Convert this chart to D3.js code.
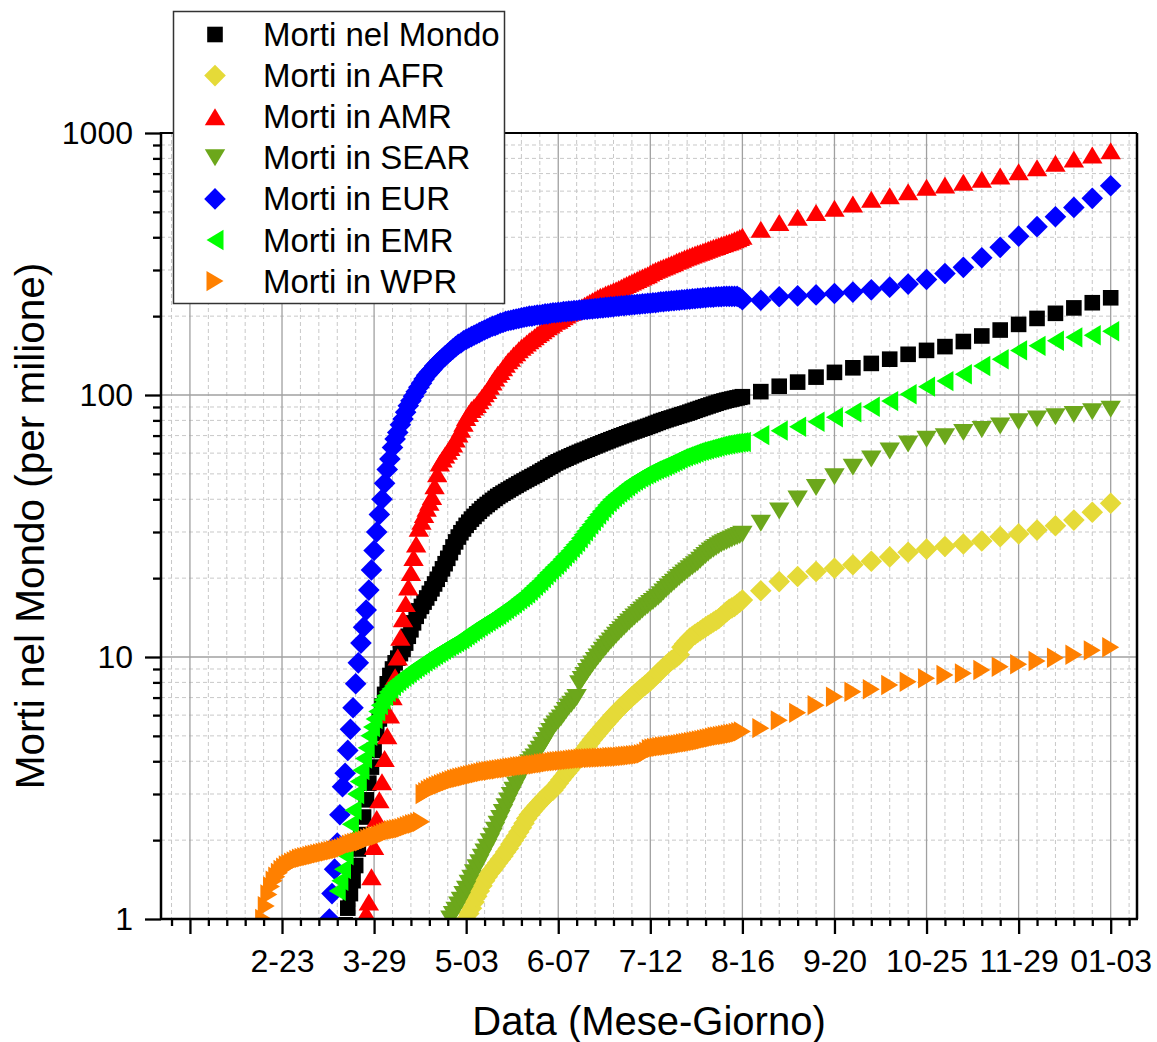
<!DOCTYPE html>
<html>
<head>
<meta charset="utf-8">
<script src="https://cdn.jsdelivr.net/npm/d3@7"></script>
<style>
  body { margin: 0; background: #fff; }
  text { font-family: "Liberation Sans", Arial, sans-serif; }
</style>
</head>
<body>
<div id="chart"></div>
<script>
// Morti per milione, regioni WHO: dati giornalieri fino al 16 agosto, poi settimanali

var weeklyDates = ["2020-08-23","2020-08-30","2020-09-06","2020-09-13","2020-09-20","2020-09-27",
  "2020-10-04","2020-10-11","2020-10-18","2020-10-25","2020-11-01","2020-11-08","2020-11-15",
  "2020-11-22","2020-11-29","2020-12-06","2020-12-13","2020-12-20","2020-12-27","2021-01-03"];

var majorTickDates = ["2020-01-19","2020-02-23","2020-03-29","2020-05-03","2020-06-07","2020-07-12",
  "2020-08-16","2020-09-20","2020-10-25","2020-11-29","2021-01-03"];
var majorTickLabels = ["","2-23","3-29","5-03","6-07","7-12","8-16","9-20","10-25","11-29","01-03"];
var yTickValues = [1, 10, 100, 1000];

// Mondo (start 2020-03-18)
var worldStart = "2020-03-18";
var worldDaily = [
  0.95, 1.1, 1.25, 1.4, 1.6, 1.85, 2.1, 2.45, 2.85, 3.3,
  3.8, 4.4, 5.1, 5.8, 6.5, 7.2, 7.9, 8.5, 9.0, 9.5,
  9.9, 10.3, 10.7, 11.3, 12, 12.7, 13.5, 14.3, 15, 15.6,
  16.2, 16.8, 17.5, 18.2, 19, 19.8, 20.7, 21.7, 22.7, 23.8,
  25, 26.3, 27.5, 28.7, 29.8, 30.8, 31.8, 32.7, 33.6, 34.4,
  35.2, 36, 36.8, 37.5, 38.2, 38.9, 39.6, 40.3, 41, 41.6,
  42.2, 42.8, 43.4, 44, 44.6, 45.2, 45.8, 46.4, 47, 47.6,
  48.2, 48.8, 49.4, 50, 50.7, 51.4, 52.1, 52.8, 53.5, 54.2,
  55, 55.6, 56.2, 56.8, 57.4, 58, 58.6, 59.2, 59.8, 60.4,
  61, 61.5, 62.1, 62.7, 63.3, 63.9, 64.5, 65.1, 65.7, 66.3,
  66.9, 67.5, 68.1, 68.7, 69.3, 69.9, 70.5, 71.1, 71.7, 72.3,
  72.9, 73.5, 74.1, 74.7, 75.3, 75.9, 76.5, 77.2, 77.9, 78.6,
  79.3, 79.9, 80.5, 81.1, 81.7, 82.3, 82.9, 83.5, 84.1, 84.7,
  85.3, 86, 86.7, 87.4, 88.1, 88.8, 89.5, 90.2, 90.9, 91.6,
  92.3, 93, 93.7, 94.3, 94.9, 95.5, 96, 96.5, 97, 97.5,
  98, 98.5];
var worldWeekly = [103, 108, 112, 117, 122, 127, 132, 137, 143, 148,
  153, 160, 168, 177, 186, 196, 205, 215, 225, 235];

// AFR (start 2020-05-03)
var afrStart = "2020-05-03";
var afrDaily = [
  1.0, 1.05, 1.1, 1.16, 1.22, 1.28, 1.34, 1.4, 1.45, 1.5,
  1.54, 1.59, 1.64, 1.69, 1.74, 1.8, 1.86, 1.93, 2.0, 2.07,
  2.15, 2.23, 2.32, 2.42, 2.5, 2.57, 2.64, 2.71, 2.78, 2.85,
  2.92, 2.99, 3.05, 3.1, 3.2, 3.3, 3.4, 3.5, 3.6, 3.7,
  3.8, 3.92, 4.05, 4.18, 4.3, 4.43, 4.56, 4.7, 4.84, 4.98,
  5.12, 5.26, 5.4, 5.55, 5.7, 5.85, 6.0, 6.15, 6.3, 6.45,
  6.6, 6.75, 6.9, 7.05, 7.2, 7.35, 7.5, 7.65, 7.8, 7.95,
  8.1, 8.3, 8.5, 8.7, 8.9, 9.1, 9.3, 9.5, 9.7, 9.85,
  10.0, 10.2, 10.9, 11.2, 11.5, 11.8, 12.0, 12.2, 12.4, 12.6,
  12.8, 13.0, 13.2, 13.4, 13.6, 13.8, 14.0, 14.3, 14.6, 14.9,
  15.2, 15.4, 15.6, 15.9, 16.2, 16.5];
var afrWeekly = [17.9, 19.4, 20.3, 21.2, 21.8, 22.5, 23.2, 24.1, 25.1, 25.8,
  26.4, 27, 27.7, 28.8, 29.5, 30.5, 31.7, 33.3, 35.7, 38.6];

// AMR (start 2020-03-25)
var amrStart = "2020-03-25";
var amrDaily = [
  0.95, 1.05, 1.16, 1.45, 1.89, 2.42, 2.85, 3.34, 4.1, 5.0,
  6.0, 7.05, 8.4, 10, 11.9, 14, 16, 18.5, 21, 24,
  27, 31, 33, 35, 37, 39, 41, 45, 50, 55,
  57, 59, 61, 63, 65, 68, 71, 74, 78, 82,
  85, 88, 90, 92, 95, 98, 101, 104, 108, 112,
  116, 120, 123, 127, 131, 135, 138, 142, 145, 149,
  152, 155, 158, 161, 164, 167, 170, 173, 176, 179,
  182, 185, 188, 191, 193, 196, 199, 202, 205, 207,
  209, 211, 214, 217, 220, 223, 226, 229, 232, 235,
  238, 240, 243, 245, 247, 250, 252, 255, 258, 261,
  264, 267, 270, 273, 276, 279, 282, 285, 288, 292,
  296, 299, 302, 305, 308, 311, 314, 317, 320, 324,
  327, 330, 333, 336, 339, 342, 345, 348, 351, 354,
  357, 360, 363, 366, 369, 372, 375, 378, 381, 384,
  387, 391, 395, 399, 404];
var amrWeekly = [429, 455, 477, 497, 516, 536, 559, 576, 597, 621,
  633, 649, 666, 685, 712, 737, 766, 795, 824, 856];

// SEAR (start 2020-04-27)
var searStart = "2020-04-27";
var searDaily = [
  1.0, 1.04, 1.08, 1.13, 1.18, 1.24, 1.3, 1.37, 1.43, 1.5,
  1.57, 1.64, 1.72, 1.8, 1.88, 1.97, 2.07, 2.18, 2.3, 2.42,
  2.55, 2.68, 2.82, 2.96, 3.1, 3.25, 3.4, 3.55, 3.7, 3.85,
  3.95, 4.05, 4.15, 4.3, 4.45, 4.6, 4.8, 5.0, 5.2, 5.4,
  5.55, 5.7, 5.85, 6.05, 6.25, 6.45, 6.6, 6.8, 7.0, 7.9,
  8.2, 8.5, 8.8, 9.1, 9.4, 9.7, 10, 10.3, 10.6, 10.9,
  11.2, 11.5, 11.8, 12.1, 12.4, 12.7, 13, 13.3, 13.6, 13.9,
  14.2, 14.5, 14.8, 15.1, 15.4, 15.7, 16, 16.3, 16.6, 16.9,
  17.3, 17.7, 18.1, 18.5, 18.9, 19.3, 19.7, 20.1, 20.5, 20.9,
  21.3, 21.7, 22.1, 22.5, 22.9, 23.4, 23.9, 24.4, 24.9, 25.4,
  25.8, 26.2, 26.6, 27, 27.3, 27.6, 27.9, 28.2, 28.5, 28.8,
  29.1, 29.4];
var searWeekly = [32.4, 36.1, 40.1, 44.4, 48.8, 53, 57, 61.1, 65, 67.8,
  69.3, 72, 73.9, 76.2, 79.1, 81, 82.6, 84.3, 86.3, 88.2];

// EUR (start 2020-03-12)
var eurStart = "2020-03-12";
var eurDaily = [
  1.0, 1.25, 1.55, 1.95, 2.5, 3.2, 3.6, 4.4, 5.3, 6.4,
  7.9, 9.5, 11.3, 13, 15.1, 18, 21.5, 25.5, 30, 35,
  40, 46, 52, 57, 63, 68, 72, 77, 81, 86,
  91, 95, 99, 103, 107, 111, 115, 119, 122, 125,
  129, 132, 135, 138, 141, 144, 147, 150, 153, 156,
  158, 161, 163, 165, 167, 169, 171, 173, 175, 177,
  179, 181, 183, 184, 186, 188, 189, 191, 192, 193,
  194, 195, 196, 197, 198, 199, 200, 200, 201, 202,
  202, 203, 204, 204, 205, 206, 206, 207, 207, 208,
  208, 209, 209, 210, 210, 211, 211, 212, 212, 213,
  213, 214, 214, 215, 215, 216, 216, 217, 217, 218,
  218, 219, 219, 220, 220, 221, 221, 222, 222, 223,
  223, 224, 224, 225, 225, 226, 227, 227, 228, 228,
  229, 229, 230, 230, 231, 231, 232, 232, 233, 233,
  234, 234, 235, 235, 236, 236, 236, 237, 237, 237,
  238, 238, 238, 238, 238, 238, 235, 231];
var eurWeekly = [230, 237, 239, 241, 244, 247, 252, 258, 265, 276,
  291, 307, 334, 366, 404, 439, 479, 520, 563, 629];

// EMR (start 2020-03-15)
var emrStart = "2020-03-15";
var emrDaily = [
  1.28, 1.4, 1.55, 1.75, 2.0, 2.3, 2.6, 3.0, 3.35, 3.7,
  4.1, 4.5, 5.0, 5.4, 5.8, 6.2, 6.55, 6.85, 7.1, 7.35,
  7.55, 7.75, 7.95, 8.1, 8.25, 8.4, 8.55, 8.7, 8.85, 9.0,
  9.15, 9.3, 9.45, 9.6, 9.75, 9.9, 10.05, 10.2, 10.35, 10.5,
  10.65, 10.8, 10.95, 11.1, 11.25, 11.4, 11.55, 11.7, 11.9, 12.1,
  12.3, 12.5, 12.7, 12.9, 13.1, 13.3, 13.5, 13.7, 13.9, 14.1,
  14.3, 14.5, 14.75, 15, 15.25, 15.5, 15.75, 16, 16.3, 16.6,
  16.9, 17.2, 17.5, 17.9, 18.3, 18.7, 19.1, 19.5, 20, 20.5,
  21, 21.5, 22, 22.5, 23, 23.6, 24.2, 24.8, 25.4, 26.1,
  26.8, 27.5, 28.4, 29.3, 30.2, 31.1, 32, 33, 34, 35,
  36, 37, 38, 39, 39.9, 40.8, 41.6, 42.4, 43.2, 44,
  44.8, 45.6, 46.4, 47.1, 47.8, 48.5, 49.1, 49.7, 50.3, 50.9,
  51.5, 52, 52.5, 53, 53.6, 54.2, 54.8, 55.4, 56, 56.6,
  57.2, 57.8, 58.3, 58.8, 59.3, 59.8, 60.3, 60.8, 61.2, 61.6,
  62, 62.4, 62.8, 63.2, 63.6, 64, 64.3, 64.6, 64.9, 65.2,
  65.4, 65.6, 65.8, 66, 66.2];
var emrWeekly = [70.3, 73.1, 75.7, 79.1, 82.2, 85.9, 90.2, 94.8, 100.6, 107.6,
  113, 120, 129, 137, 148, 154, 161, 166, 169, 175];

// WPR (start 2020-02-16)
var wprStart = "2020-02-16";
var wprDaily = [
  1.0, 1.12, 1.24, 1.33, 1.4, 1.45, 1.5, 1.54, 1.57, 1.6,
  1.62, 1.64, 1.66, 1.68, 1.7, 1.71, 1.72, 1.73, 1.74, 1.75,
  1.76, 1.77, 1.78, 1.79, 1.8, 1.81, 1.82, 1.83, 1.84, 1.85,
  1.86, 1.88, 1.9, 1.92, 1.94, 1.95, 1.96, 1.97, 1.98, 2.0,
  2.02, 2.04, 2.06, 2.07, 2.08, 2.1, 2.12, 2.14, 2.16, 2.18,
  2.19, 2.2, 2.21, 2.22, 2.24, 2.26, 2.28, 2.3, 2.31, 2.33,
  2.35,
  3.0, 3.05, 3.1, 3.14, 3.18, 3.21, 3.24, 3.27, 3.3, 3.33,
  3.36, 3.39, 3.42, 3.44, 3.46, 3.48, 3.5, 3.52, 3.54, 3.56,
  3.58, 3.6, 3.62, 3.64, 3.66, 3.67, 3.68, 3.7, 3.71, 3.72,
  3.74, 3.75, 3.76, 3.78, 3.79, 3.8, 3.82, 3.83, 3.84, 3.85,
  3.86, 3.87, 3.88, 3.89, 3.9, 3.92, 3.93, 3.95, 3.96, 3.98,
  3.99, 4.0, 4.01, 4.02, 4.03, 4.04, 4.05, 4.06, 4.07, 4.08,
  4.09, 4.1, 4.1, 4.11, 4.11, 4.12, 4.12, 4.13, 4.13, 4.14,
  4.14, 4.15, 4.15, 4.16, 4.16, 4.17, 4.18, 4.19, 4.2, 4.21,
  4.22, 4.23, 4.24, 4.26, 4.28, 4.35, 4.45, 4.48, 4.5, 4.52,
  4.54, 4.56, 4.57, 4.58, 4.6, 4.61, 4.63, 4.64, 4.66, 4.68,
  4.7, 4.72, 4.74, 4.76, 4.78, 4.8, 4.82, 4.85, 4.88, 4.9,
  4.93, 4.96, 4.98, 5.0, 5.02, 5.04, 5.06, 5.08, 5.1, 5.13,
  5.16, 5.2];
var wprWeekly = [5.35, 5.73, 6.12, 6.55, 7.05, 7.37, 7.53, 7.82, 8.05, 8.29,
  8.54, 8.66, 8.92, 9.18, 9.38, 9.66, 9.94, 10.2, 10.6, 10.9];

var seriesNames = ["Morti nel Mondo", "Morti in AFR", "Morti in AMR", "Morti in SEAR",
  "Morti in EUR", "Morti in EMR", "Morti in WPR"];
var seriesColors = ["#000000", "#E5DA38", "#FF0000", "#6CA71B", "#0000FF", "#00FF00", "#FF8000"];
var seriesShapes = ["square", "diamond", "up", "down", "diamond", "left", "right"];

var parseDay = d3.utcParse("%Y-%m-%d");

function dailyPoints(start, values) {
  var t0 = parseDay(start);
  return values.map(function (v, i) { return { date: d3.utcDay.offset(t0, i), value: v }; });
}
function weeklyPoints(values) {
  return values.map(function (v, i) { return { date: parseDay(weeklyDates[i]), value: v }; });
}

var series = [
  dailyPoints(worldStart, worldDaily).concat(weeklyPoints(worldWeekly)),
  dailyPoints(afrStart, afrDaily).concat(weeklyPoints(afrWeekly)),
  dailyPoints(amrStart, amrDaily).concat(weeklyPoints(amrWeekly)),
  dailyPoints(searStart, searDaily).concat(weeklyPoints(searWeekly)),
  dailyPoints(eurStart, eurDaily).concat(weeklyPoints(eurWeekly)),
  dailyPoints(emrStart, emrDaily).concat(weeklyPoints(emrWeekly)),
  dailyPoints(wprStart, wprDaily).concat(weeklyPoints(wprWeekly))
];

function markerPath(shape) {
  switch (shape) {
    case "square": return "M-7.8,-7.8H7.8V7.8H-7.8Z";
    case "diamond": return "M0,-10.8L10.8,0L0,10.8L-10.8,0Z";
    case "up": return "M0,-8.5L10.2,8.5L-10.2,8.5Z";
    case "down": return "M0,8.5L10.2,-8.5L-10.2,-8.5Z";
    case "left": return "M-8.5,0L8.5,-10.2L8.5,10.2Z";
    case "right": return "M8.5,0L-8.5,-10.2L-8.5,10.2Z";
  }
}

// svg container
var svgWidth = 1157;
var svgHeight = 1042;
var plot = { left: 161, right: 1137, top: 133, bottom: 919 };

var svg = d3.select("#chart").append("svg")
  .attr("width", svgWidth)
  .attr("height", svgHeight);

var xScale = d3.scaleUtc()
  .domain([parseDay("2020-01-08"), parseDay("2021-01-13")])
  .range([plot.left, plot.right]);

var yScale = d3.scaleLog()
  .domain([1, 1000])
  .range([plot.bottom, plot.top]);

var majorDates = majorTickDates.map(parseDay);
var minorDates = d3.range(0, 53)
  .filter(function (i) { return (i - 1) % 5 !== 0; })
  .map(function (i) { return d3.utcDay.offset(parseDay("2020-01-12"), 7 * i); });
var yMinor = [];
[1, 10, 100].forEach(function (dec) {
  d3.range(2, 10).forEach(function (k) { yMinor.push(k * dec); });
});

// grid
var grid = svg.append("g");
grid.selectAll(".vminor").data(minorDates).enter().append("line")
  .attr("x1", function (d) { return xScale(d); }).attr("x2", function (d) { return xScale(d); })
  .attr("y1", plot.top).attr("y2", plot.bottom)
  .attr("stroke", "#c8c8c8").attr("stroke-width", 1).attr("stroke-dasharray", "4,3");
grid.selectAll(".hminor").data(yMinor).enter().append("line")
  .attr("x1", plot.left).attr("x2", plot.right)
  .attr("y1", function (d) { return yScale(d); }).attr("y2", function (d) { return yScale(d); })
  .attr("stroke", "#c8c8c8").attr("stroke-width", 1).attr("stroke-dasharray", "4,3");
grid.selectAll(".vmajor").data(majorDates).enter().append("line")
  .attr("x1", function (d) { return xScale(d); }).attr("x2", function (d) { return xScale(d); })
  .attr("y1", plot.top).attr("y2", plot.bottom)
  .attr("stroke", "#a0a0a0").attr("stroke-width", 1.3);
grid.selectAll(".hmajor").data([10, 100]).enter().append("line")
  .attr("x1", plot.left).attr("x2", plot.right)
  .attr("y1", function (d) { return yScale(d); }).attr("y2", function (d) { return yScale(d); })
  .attr("stroke", "#a0a0a0").attr("stroke-width", 1.3);

// markers
svg.append("clipPath").attr("id", "plotclip").append("rect")
  .attr("x", plot.left).attr("y", plot.top)
  .attr("width", plot.right - plot.left).attr("height", plot.bottom - plot.top);

var marks = svg.append("g").attr("clip-path", "url(#plotclip)");
series.forEach(function (pts, s) {
  marks.append("g").selectAll("path")
    .data(pts)
    .enter()
    .append("path")
    .attr("d", markerPath(seriesShapes[s]))
    .attr("fill", seriesColors[s])
    .attr("transform", function (d) {
      return "translate(" + xScale(d.date) + "," + yScale(d.value) + ")";
    });
});

// frame
var frame = svg.append("g").attr("stroke", "#000").attr("fill", "none");
frame.append("line").attr("x1", plot.left).attr("x2", plot.right).attr("y1", plot.top).attr("y2", plot.top).attr("stroke-width", 2);
frame.append("line").attr("x1", plot.right).attr("x2", plot.right).attr("y1", plot.top).attr("y2", plot.bottom).attr("stroke-width", 2.5);
frame.append("line").attr("x1", plot.left).attr("x2", plot.right + 1).attr("y1", plot.bottom).attr("y2", plot.bottom).attr("stroke-width", 2.5);
frame.append("line").attr("x1", plot.left).attr("x2", plot.left).attr("y1", plot.top - 1).attr("y2", plot.bottom + 1).attr("stroke-width", 2.5);

// axes
var xAxis = d3.axisBottom(xScale)
  .tickValues(majorDates)
  .tickFormat(function (d, i) { return majorTickLabels[i]; })
  .tickSizeInner(15).tickSizeOuter(0).tickPadding(15);
var xMinorAxis = d3.axisBottom(xScale)
  .tickValues(minorDates).tickFormat("").tickSizeInner(7).tickSizeOuter(0);
var yAxis = d3.axisLeft(yScale)
  .tickValues(yTickValues).tickFormat(d3.format("d"))
  .tickSizeInner(16).tickSizeOuter(0).tickPadding(12);
var yMinorAxis = d3.axisLeft(yScale)
  .tickValues(yMinor).tickFormat("").tickSizeInner(8).tickSizeOuter(0);

function styleAxis(g) {
  g.select(".domain").remove();
  g.selectAll(".tick line").attr("stroke", "#000").attr("stroke-width", 2.3);
  g.selectAll(".tick text").attr("fill", "#000").style("font-size", "32px")
    .style("font-family", '"Liberation Sans", Arial, sans-serif');
}

svg.append("g").attr("transform", "translate(0," + plot.bottom + ")").call(xMinorAxis).call(styleAxis);
svg.append("g").attr("transform", "translate(0," + plot.bottom + ")").call(xAxis).call(styleAxis);
svg.append("g").attr("transform", "translate(" + plot.left + ",0)").call(yMinorAxis).call(styleAxis);
svg.append("g").attr("transform", "translate(" + plot.left + ",0)").call(yAxis).call(styleAxis);

// axis titles
svg.append("text")
  .attr("x", (plot.left + plot.right) / 2)
  .attr("y", 1035)
  .attr("text-anchor", "middle")
  .style("font-size", "40px")
  .text("Data (Mese-Giorno)");

svg.append("text")
  .attr("transform", "translate(44," + (plot.top + plot.bottom) / 2 + ") rotate(-90)")
  .attr("text-anchor", "middle")
  .style("font-size", "40.5px")
  .text("Morti nel Mondo (per milione)");

// legend
var legend = svg.append("g");
legend.append("rect")
  .attr("x", 173.5).attr("y", 11.5)
  .attr("width", 331).attr("height", 292)
  .attr("fill", "#fff").attr("stroke", "#333").attr("stroke-width", 1.5);

var legendRows = legend.selectAll(".row")
  .data(seriesNames)
  .enter()
  .append("g")
  .attr("transform", function (d, i) { return "translate(0," + (34.5 + i * 41.1) + ")"; });

legendRows.append("path")
  .attr("d", function (d, i) { return markerPath(seriesShapes[i]); })
  .attr("fill", function (d, i) { return seriesColors[i]; })
  .attr("transform", "translate(215,0)");

legendRows.append("text")
  .attr("x", 263)
  .attr("y", 11.5)
  .style("font-size", "33px")
  .text(function (d) { return d; });
</script>
</body>
</html>
